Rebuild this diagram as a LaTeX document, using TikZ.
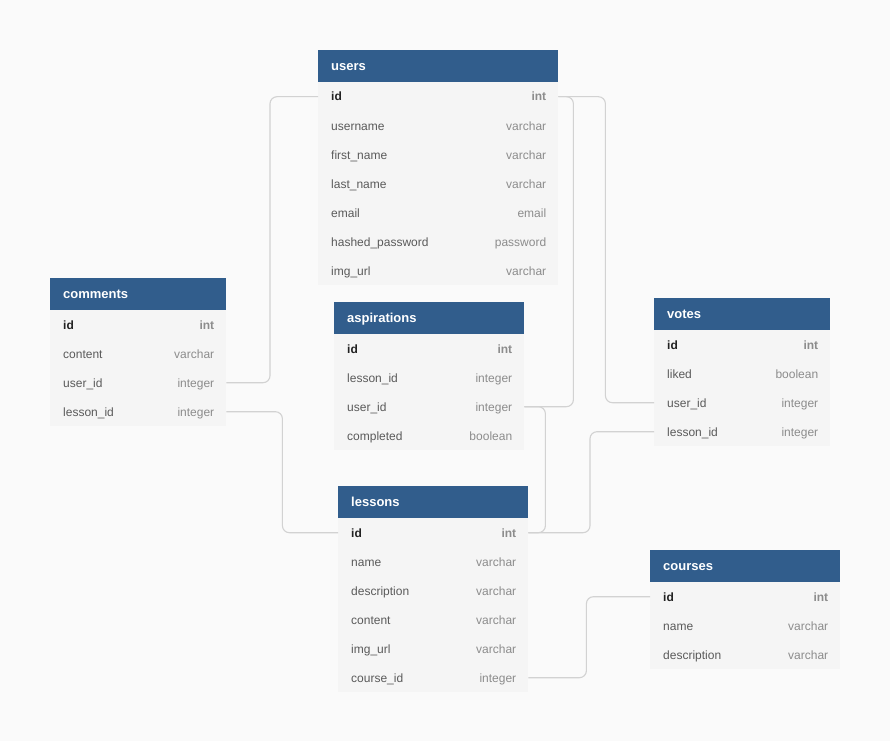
\documentclass[tikz,border=0pt]{standalone}
\usepackage{fontspec}
\setmainfont{Liberation Sans}
\usetikzlibrary{calc}
\definecolor{bgc}{HTML}{FAFAFA}
\definecolor{hdrc}{HTML}{315D8C}
\definecolor{rowc}{HTML}{F5F5F5}
\definecolor{fieldc}{HTML}{5A5A5A}
\definecolor{typec}{HTML}{8C8C8C}
\definecolor{idc}{HTML}{222222}
\definecolor{linec}{HTML}{D2D2D2}
\catcode`\_=12
\tikzset{
  hdr/.style={fill=hdrc, minimum height=32pt, inner sep=0pt, anchor=north west},
  hdrtxt/.style={anchor=base west, text=white, font=\fontsize{13}{15}\selectfont\bfseries, inner sep=0pt},
  rowbox/.style={fill=rowc, minimum height=29pt, inner sep=0pt, anchor=north west},
  fieldtxt/.style={anchor=base west, text=fieldc, font=\fontsize{12}{14}\selectfont, inner sep=0pt},
  typetxt/.style={anchor=base east, text=typec, font=\fontsize{12}{14}\selectfont, inner sep=0pt},
  idtxt/.style={anchor=base west, text=idc, font=\fontsize{12}{14}\selectfont\bfseries, inner sep=0pt},
  idtype/.style={anchor=base east, text=typec, font=\fontsize{12}{14}\selectfont\bfseries, inner sep=0pt},
  conn/.style={draw=linec, line width=1.1pt, rounded corners=7pt},
}
% #1 name, #2 left x, #3 top y, #4 width, #5 title, #6 rows field/type
\newcommand\dbtable[6]{%
  \node[hdr, minimum width=#4pt] (#1) at (#2,#3) {};
  \node[hdrtxt] (#1-title) at ($(#1.west)+(13pt,4.6)$) {#5};
  \foreach \f/\t [count=\i] in {#6} {
    \pgfmathsetmacro\ry{#3+32+(\i-1)*29}
    \node[rowbox, minimum width=#4pt] (#1-\f) at (#2,\ry) {};
    \ifnum\i=1
      \node[idtxt] (#1-\f-name) at ($(#1-\f.west)+(13pt,4.3)$) {\f};
      \node[idtype] (#1-\f-type) at ($(#1-\f.east)+(-12pt,4.3)$) {\t};
    \else
      \node[fieldtxt] (#1-\f-name) at ($(#1-\f.west)+(13pt,4.3)$) {\f};
      \node[typetxt] (#1-\f-type) at ($(#1-\f.east)+(-12pt,4.3)$) {\t};
    \fi
  }%
}
\begin{document}
\begin{tikzpicture}[x=1pt,y=-1pt]
\fill[bgc] (0,0) rectangle (890,741);
\useasboundingbox (0,0) rectangle (890,741);

\dbtable{users}{318}{50}{240}{users}{id/int, username/varchar, first_name/varchar, last_name/varchar, email/email, hashed_password/password, img_url/varchar}
\dbtable{comments}{50}{278}{176}{comments}{id/int, content/varchar, user_id/integer, lesson_id/integer}
\dbtable{aspirations}{334}{302}{190}{aspirations}{id/int, lesson_id/integer, user_id/integer, completed/boolean}
\dbtable{votes}{654}{298}{176}{votes}{id/int, liked/boolean, user_id/integer, lesson_id/integer}
\dbtable{lessons}{338}{486}{190}{lessons}{id/int, name/varchar, description/varchar, content/varchar, img_url/varchar, course_id/integer}
\dbtable{courses}{650}{550}{190}{courses}{id/int, name/varchar, description/varchar}

\draw[conn] (users-id.west) -- ++(-48,0) |- (comments-user_id.east);
\draw[conn] (users-id.east) -- ++(15,0) |- (aspirations-user_id.east);
\draw[conn] (users-id.east) -- ++(47,0) |- (votes-user_id.west);
\draw[conn] (comments-lesson_id.east) -- ++(56,0) |- (lessons-id.west);
\draw[conn] (aspirations-user_id.east) -- ++(21,0) |- (lessons-id.east);
\draw[conn] (votes-lesson_id.west) -- ++(-64,0) |- (lessons-id.east);
\draw[conn] (lessons-course_id.east) -- ++(58,0) |- (courses-id.west);
\end{tikzpicture}
\end{document}
